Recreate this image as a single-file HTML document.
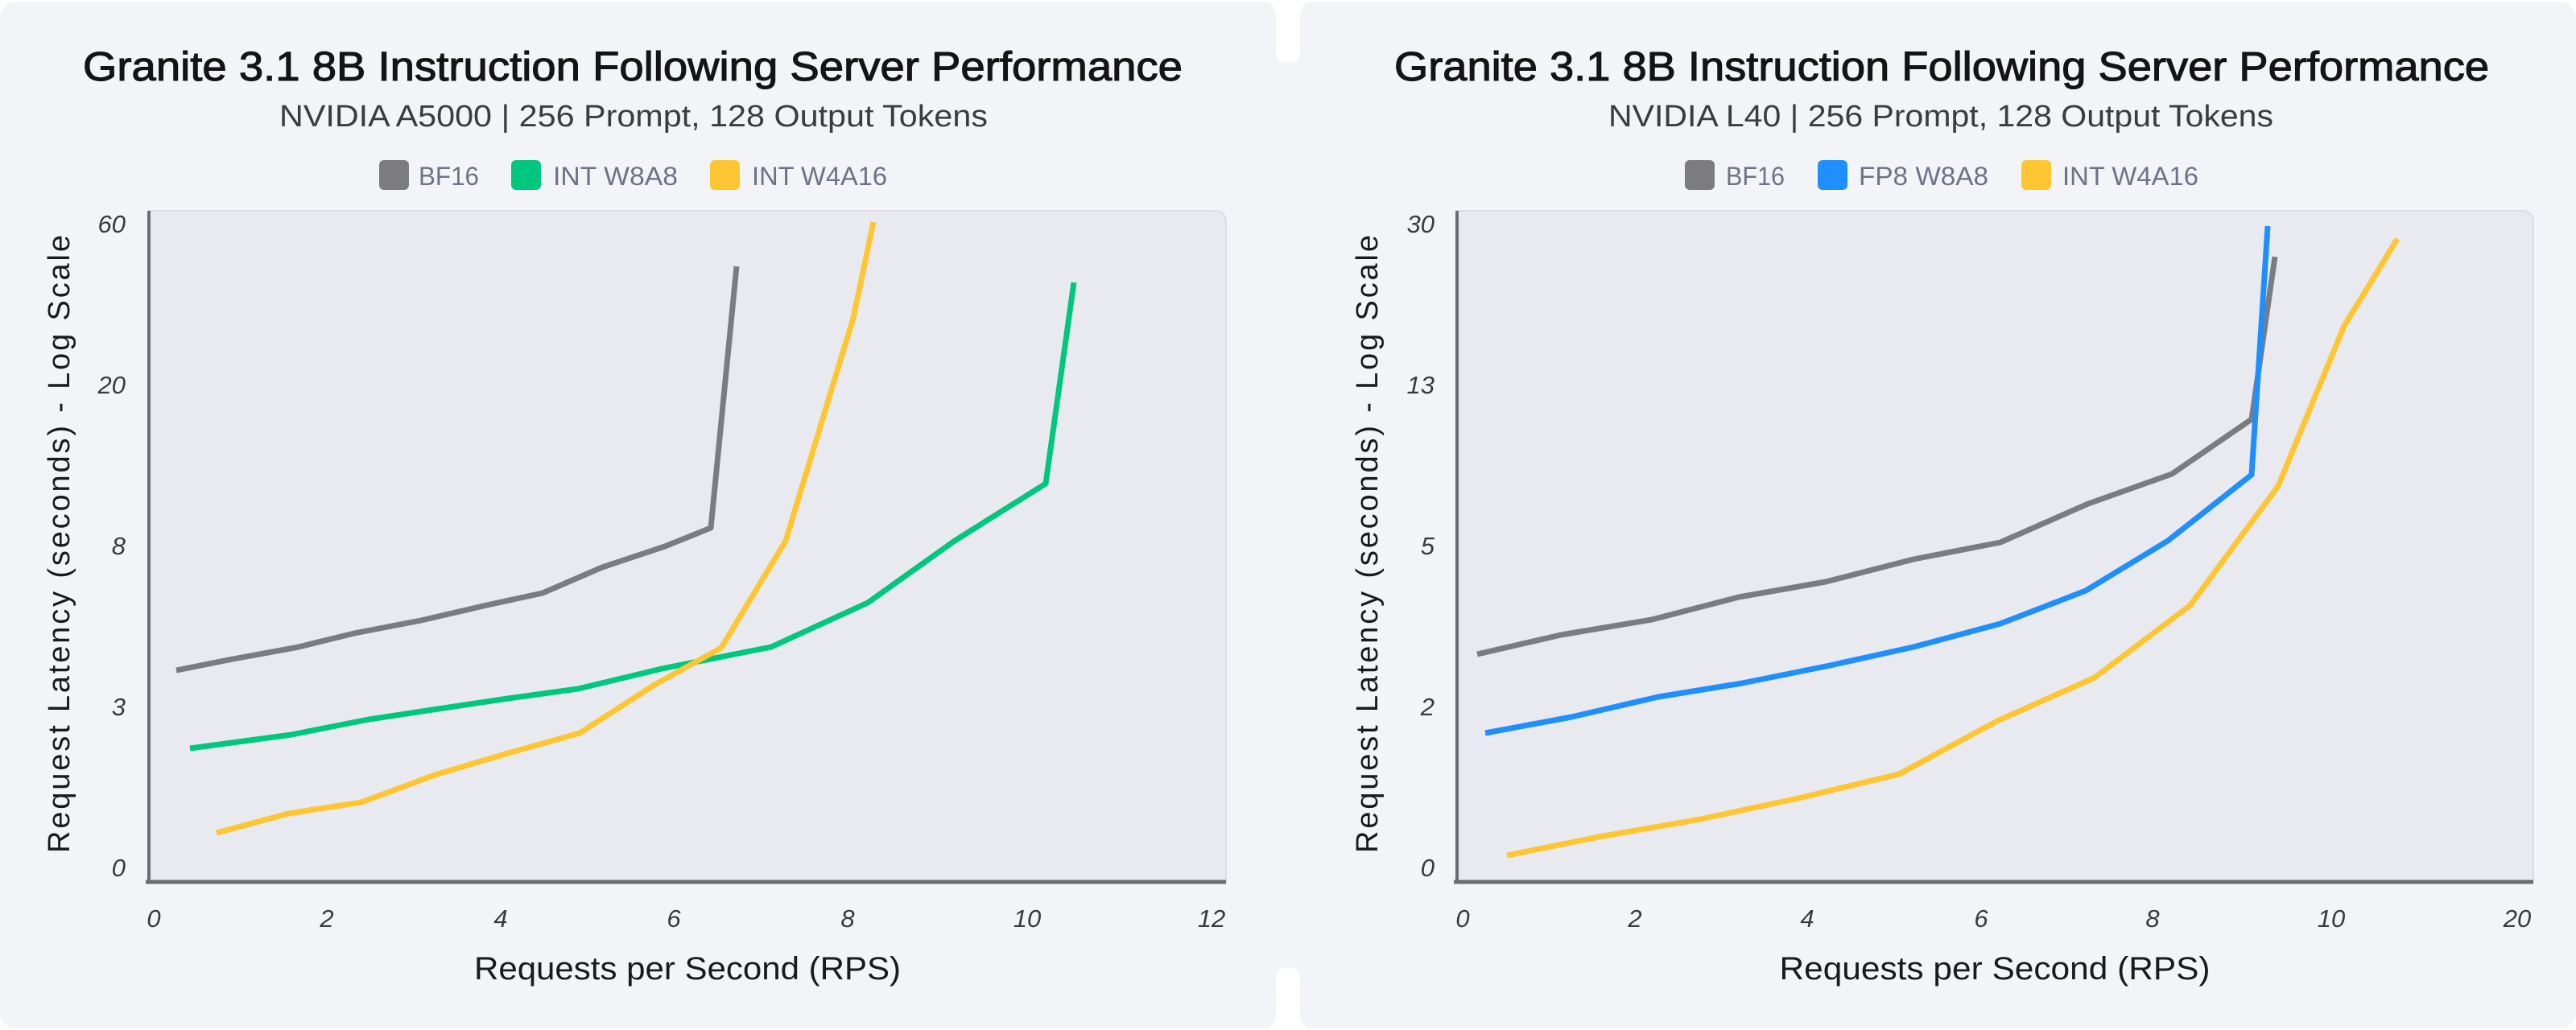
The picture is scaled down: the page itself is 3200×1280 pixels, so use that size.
<!DOCTYPE html>
<html>
<head>
<meta charset="utf-8">
<style>
  html,body{margin:0;padding:0;background:#ffffff;}
  svg{display:block;}
  text{font-family:"Liberation Sans", sans-serif;}
</style>
</head>
<body>
<svg width="3200" height="1280" viewBox="0 0 3200 1280" xmlns="http://www.w3.org/2000/svg">
  <!-- card background -->
  <rect x="0" y="2" width="3200" height="1276" rx="20" ry="20" fill="#f3f4f8"/>
  <!-- notches between cards -->
  <path d="M1563 0 Q1585 0 1585 22 L1585 63 Q1585 78 1600 78 Q1615 78 1615 63 L1615 22 Q1615 0 1637 0 Z" fill="#ffffff"/>
  <path d="M1563 1280 Q1585 1280 1585 1258 L1585 1217 Q1585 1202 1600 1202 Q1615 1202 1615 1217 L1615 1258 Q1615 1280 1637 1280 Z" fill="#ffffff"/>

  <!-- ================= LEFT CHART ================= -->
  <text x="786" y="100" text-anchor="middle" font-size="51" fill="#141414" stroke="#141414" stroke-width="1.1" textLength="1366" lengthAdjust="spacingAndGlyphs">Granite 3.1 8B Instruction Following Server Performance</text>
  <text x="787" y="157" text-anchor="middle" font-size="38" fill="#3c3c3c" textLength="880" lengthAdjust="spacingAndGlyphs">NVIDIA A5000 | 256 Prompt, 128 Output Tokens</text>

  <!-- legend -->
  <rect x="471" y="199" width="37" height="37" rx="6" fill="#7c7c80"/>
  <text x="520" y="230" font-size="32" fill="#6b7385" textLength="75" lengthAdjust="spacingAndGlyphs">BF16</text>
  <rect x="635" y="199" width="37" height="37" rx="6" fill="#00c77e"/>
  <text x="687" y="230" font-size="32" fill="#6b7385" textLength="155" lengthAdjust="spacingAndGlyphs">INT W8A8</text>
  <rect x="882" y="199" width="37" height="37" rx="6" fill="#ffc633"/>
  <text x="934" y="230" font-size="32" fill="#6b7385" textLength="168" lengthAdjust="spacingAndGlyphs">INT W4A16</text>

  <!-- plot area -->
  <path d="M185 262 L1508 262 Q1523 262 1523 277 L1523 1096 L185 1096 Z" fill="#e9eaef" stroke="#dcdde3" stroke-width="2"/>
  <line x1="185" y1="262" x2="185" y2="1098" stroke="#6d6d71" stroke-width="4"/>
  <line x1="181" y1="1096" x2="1523" y2="1096" stroke="#6d6d71" stroke-width="5"/>

  <!-- y ticks -->
  <g font-size="31" font-style="italic" fill="#3a3a3a" text-anchor="end">
    <text x="156" y="289">60</text>
    <text x="156" y="489">20</text>
    <text x="156" y="689">8</text>
    <text x="156" y="889">3</text>
    <text x="156" y="1089">0</text>
  </g>
  <!-- x ticks -->
  <g font-size="31" font-style="italic" fill="#3a3a3a" text-anchor="middle">
    <text x="191" y="1152">0</text>
    <text x="406" y="1152">2</text>
    <text x="622" y="1152">4</text>
    <text x="837" y="1152">6</text>
    <text x="1053" y="1152">8</text>
    <text x="1276" y="1152">10</text>
    <text x="1505" y="1152">12</text>
  </g>
  <!-- axis titles -->
  <text x="854" y="1217" text-anchor="middle" font-size="40" fill="#1a1a1a" textLength="530" lengthAdjust="spacingAndGlyphs">Requests per Second (RPS)</text>
  <text transform="translate(86,676) rotate(-90)" text-anchor="middle" font-size="38" fill="#1a1a1a" textLength="768" lengthAdjust="spacing">Request Latency (seconds) - Log Scale</text>

  <!-- series -->
  <g fill="none" stroke-width="7" stroke-linejoin="round" stroke-linecap="butt">
    <polyline stroke="#7c7c80" points="219,833 284,820 371,804 440,787 523,771 605,752 674,737 748,705 826,679 883,656 915,331"/>
    <polyline stroke="#00c77e" points="236,930 362,913 458,894 544,881 631,868 718,856 822,831 958,804 1078,749 1186,672 1299,601 1334,351"/>
    <polyline stroke="#ffc633" points="269,1035 358,1011 449,997 540,963 631,936 720,911 813,851 896,805 976,672 1060,395 1085,276"/>
  </g>

  <!-- ================= RIGHT CHART ================= -->
  <text x="2412" y="100" text-anchor="middle" font-size="51" fill="#141414" stroke="#141414" stroke-width="1.1" textLength="1360" lengthAdjust="spacingAndGlyphs">Granite 3.1 8B Instruction Following Server Performance</text>
  <text x="2411" y="157" text-anchor="middle" font-size="38" fill="#3c3c3c" textLength="826" lengthAdjust="spacingAndGlyphs">NVIDIA L40 | 256 Prompt, 128 Output Tokens</text>

  <!-- legend -->
  <rect x="2093" y="199" width="37" height="37" rx="6" fill="#7c7c80"/>
  <text x="2144" y="230" font-size="32" fill="#6b7385" textLength="73" lengthAdjust="spacingAndGlyphs">BF16</text>
  <rect x="2258" y="199" width="37" height="37" rx="6" fill="#1f8fff"/>
  <text x="2309" y="230" font-size="32" fill="#6b7385" textLength="161" lengthAdjust="spacingAndGlyphs">FP8 W8A8</text>
  <rect x="2511" y="199" width="37" height="37" rx="6" fill="#ffc633"/>
  <text x="2562" y="230" font-size="32" fill="#6b7385" textLength="169" lengthAdjust="spacingAndGlyphs">INT W4A16</text>

  <!-- plot area -->
  <path d="M1810 262 L3132 262 Q3147 262 3147 277 L3147 1096 L1810 1096 Z" fill="#e9eaef" stroke="#dcdde3" stroke-width="2"/>
  <line x1="1810" y1="262" x2="1810" y2="1098" stroke="#6d6d71" stroke-width="4"/>
  <line x1="1806" y1="1096" x2="3147" y2="1096" stroke="#6d6d71" stroke-width="5"/>

  <!-- y ticks -->
  <g font-size="31" font-style="italic" fill="#3a3a3a" text-anchor="end">
    <text x="1782" y="289">30</text>
    <text x="1782" y="489">13</text>
    <text x="1782" y="689">5</text>
    <text x="1782" y="889">2</text>
    <text x="1782" y="1089">0</text>
  </g>
  <!-- x ticks -->
  <g font-size="31" font-style="italic" fill="#3a3a3a" text-anchor="middle">
    <text x="1817" y="1152">0</text>
    <text x="2031" y="1152">2</text>
    <text x="2245" y="1152">4</text>
    <text x="2461" y="1152">6</text>
    <text x="2674" y="1152">8</text>
    <text x="2896" y="1152">10</text>
    <text x="3127" y="1152">20</text>
  </g>
  <!-- axis titles -->
  <text x="2478" y="1217" text-anchor="middle" font-size="40" fill="#1a1a1a" textLength="535" lengthAdjust="spacingAndGlyphs">Requests per Second (RPS)</text>
  <text transform="translate(1711,676) rotate(-90)" text-anchor="middle" font-size="38" fill="#1a1a1a" textLength="768" lengthAdjust="spacing">Request Latency (seconds) - Log Scale</text>

  <!-- series -->
  <g fill="none" stroke-width="7" stroke-linejoin="round" stroke-linecap="butt">
    <polyline stroke="#7c7c80" points="1835,813 1939,789 2052,770 2160,742 2268,723 2377,695 2485,674 2594,626 2698,589 2797,521 2826,319"/>
    <polyline stroke="#1f8fff" points="1845,911 1952,891 2060,866 2164,849 2273,827 2377,804 2485,775 2591,734 2693,672 2797,590 2817,281"/>
    <polyline stroke="#ffc633" points="1872,1063 1986,1040 2112,1018 2234,992 2359,962 2481,896 2602,842 2721,752 2830,604 2912,405 2978,297"/>
  </g>
</svg>
</body>
</html>
